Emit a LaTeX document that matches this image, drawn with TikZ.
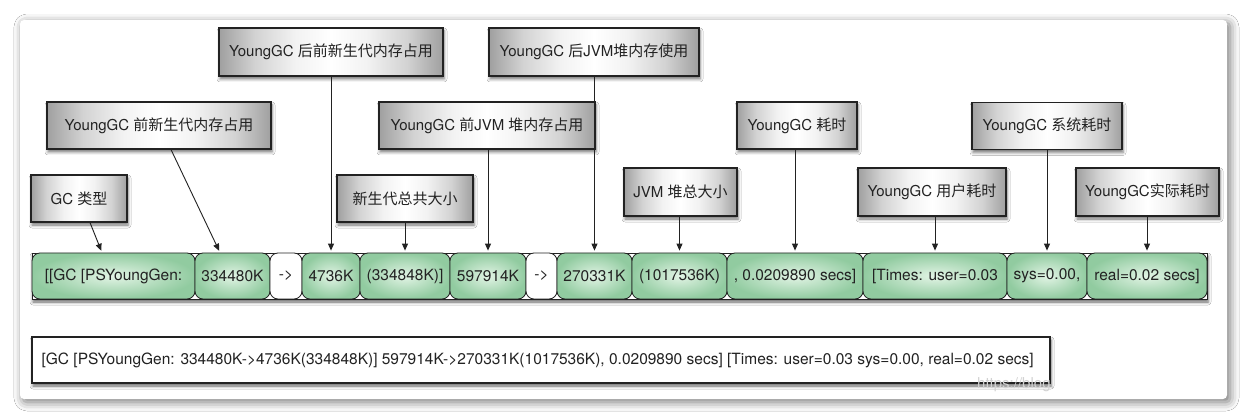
\documentclass[tikz,border=0pt]{standalone}
\usepackage{fontspec}
\setmainfont{TeX Gyre Heros}
\newfontfamily\cjk{Noto Sans CJK SC}
\usetikzlibrary{arrows.meta,shadows.blur,calc}
\newcommand\zhs[1]{{\cjk #1}}
\definecolor{cellg}{RGB}{145,203,160}
\definecolor{cellin}{RGB}{226,244,229}
\definecolor{ink}{RGB}{34,34,34}
\pgfdeclarehorizontalshading{lblsh}{100bp}{color(0bp)=(gray!75); color(25bp)=(gray!75); color(33bp)=(gray!35); color(42bp)=(gray!10); color(50bp)=(white); color(58bp)=(gray!10); color(67bp)=(gray!35); color(75bp)=(gray!75); color(100bp)=(gray!75)}
\begin{document}
\begin{tikzpicture}[x=1pt,y=-1pt,
  lbl/.style={draw=ink, line width=1.1pt, shading=lblsh, inner sep=0pt,
    font=\fontsize{15}{17}\selectfont, text=ink,
    blur shadow={shadow xshift=1pt,shadow yshift=-3pt,shadow blur radius=3pt,shadow opacity=55}},
  cell/.style={draw=ink, line width=0.8pt, rounded corners=8pt, inner color=cellin, outer color=cellg,
    inner sep=0pt, minimum height=46pt, font=\fontsize{15.5}{17}\selectfont, text=ink},
  wcell/.style={draw=ink, line width=0.8pt, rounded corners=8pt, fill=white,
    inner sep=0pt, minimum height=46pt, font=\fontsize{15.5}{17}\selectfont, text=ink},
  arr/.style={-{Triangle[length=7pt,width=6pt]}, line width=0.9pt, ink, shorten >=2pt}
]
\useasboundingbox (0,0) rectangle (1247,419);
\fill[white] (0,0) rectangle (1247,419);
% card
\path[fill=white, rounded corners=4pt,
  blur shadow={shadow xshift=3pt,shadow yshift=-3pt,shadow blur radius=9pt,shadow opacity=55}]
  (20,20) rectangle (1227,399);

% label boxes
\node[lbl, minimum width=96pt, minimum height=47pt] (gct) at (79,198.5) {GC \zhs{类型}};
\node[lbl, minimum width=224pt, minimum height=47pt] (pre1) at (159,125.5) {YoungGC \zhs{前新生代内存占用}};
\node[lbl, minimum width=224pt, minimum height=48pt] (post1) at (331,52) {YoungGC \zhs{后前新生代内存占用}};
\node[lbl, minimum width=136pt, minimum height=47pt] (ysize) at (405,198.5) {\zhs{新生代总共大小}};
\node[lbl, minimum width=216pt, minimum height=47pt] (pre2) at (487,125.5) {YoungGC \zhs{前}JVM \zhs{堆内存占用}};
\node[lbl, minimum width=210pt, minimum height=48pt] (post2) at (594,52) {YoungGC \zhs{后}JVM\zhs{堆内存使用}};
\node[lbl, minimum width=113pt, minimum height=48pt] (heap) at (680.5,192) {JVM \zhs{堆总大小}};
\node[lbl, minimum width=120pt, minimum height=47pt] (gctime) at (797,125.5) {YoungGC \zhs{耗时}};
\node[lbl, minimum width=150pt, minimum height=47pt] (sys) at (1047,126) {YoungGC \zhs{系统耗时}};
\node[lbl, minimum width=148pt, minimum height=48pt] (user) at (932,192) {YoungGC \zhs{用户耗时}};
\node[lbl, minimum width=143pt, minimum height=48pt] (real) at (1147.5,192) {YoungGC\zhs{实际耗时}};

% row
\node[draw=ink, line width=0.8pt, fill=white, minimum width=1175pt, minimum height=46pt, inner sep=0pt,
  blur shadow={shadow xshift=1pt,shadow yshift=-3pt,shadow blur radius=3pt,shadow opacity=60}] (row) at (619.5,276) {};
\node[cell, minimum width=163pt] (c1) at (113.5,276) {[[GC [PSYoungGen:};
\node[cell, minimum width=75pt] (c2) at (232.5,276) {334480K};
\node[wcell, minimum width=32pt] (c3) at (286,276) {->};
\node[cell, minimum width=58pt] (c4) at (331,276) {4736K};
\node[cell, minimum width=90pt] (c5) at (405,276) {(334848K)]};
\node[cell, minimum width=76pt] (c6) at (488,276) {597914K};
\node[wcell, minimum width=31pt] (c7) at (541.5,276) {->};
\node[cell, minimum width=75pt] (c8) at (594.5,276) {270331K};
\node[cell, minimum width=95pt] (c9) at (679.5,276) {(1017536K)};
\node[cell, minimum width=136pt] (c10) at (795,276) {, 0.0209890 secs]};
\node[cell, minimum width=144pt] (c11) at (935,276) {[Times: user=0.03};
\node[cell, minimum width=80pt] (c12) at (1047,276) {sys=0.00,};
\node[cell, minimum width=120pt] (c13) at (1147,276) {real=0.02 secs]};

% arrows
\draw[arr] ([xshift=11pt]gct.south) -- ([xshift=-11.5pt]c1.north);
\draw[arr] ([xshift=12pt]pre1.south) -- ([xshift=-12.5pt]c2.north);
\draw[arr] (c4.north |- post1.south) -- (c4.north);
\draw[arr] (c5.north |- ysize.south) -- (c5.north);
\draw[arr] (c6.north |- pre2.south) -- (c6.north);
\draw[arr] (c8.north |- post2.south) -- (c8.north);
\draw[arr] (c9.north |- heap.south) -- (c9.north);
\draw[arr] (c10.north |- gctime.south) -- (c10.north);
\draw[arr] (c11.north |- user.south) -- (c11.north);
\draw[arr] (c12.north |- sys.south) -- (c12.north);
\draw[arr] (c13.north |- real.south) -- (c13.north);

% bottom log line
\node[draw=ink, line width=1.2pt, fill=white, minimum width=1018pt, minimum height=46pt, inner sep=0pt,
  blur shadow={shadow xshift=1pt,shadow yshift=-3pt,shadow blur radius=3pt,shadow opacity=60}] (logbox) at (541,360) {};
\node[anchor=west, inner sep=0pt, font=\fontsize{15.5}{17}\selectfont, text=ink] (logtext) at ([xshift=10pt]logbox.west)
  {[GC [PSYoungGen: 334480K->4736K(334848K)] 597914K->270331K(1017536K), 0.0209890 secs] [Times: user=0.03 sys=0.00, real=0.02 secs]};
\node[anchor=west, inner sep=0pt, font=\fontsize{15}{17}\selectfont, text=gray!35] (wm) at (977,385) {https://blog.};
\end{tikzpicture}
\end{document}
